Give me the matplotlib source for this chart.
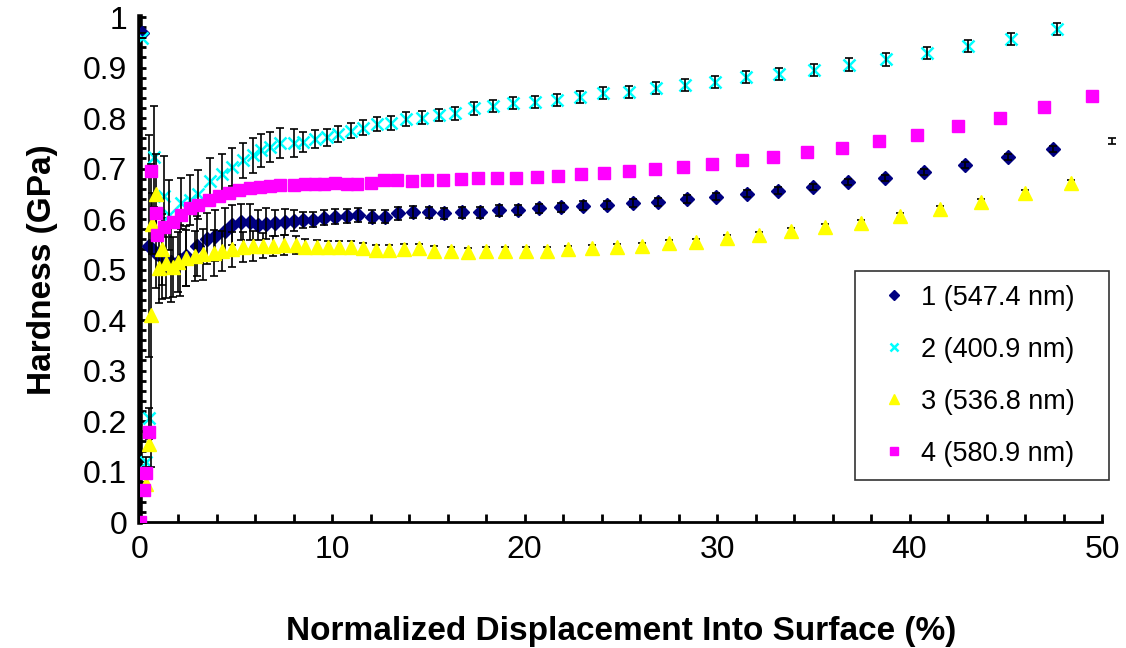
import matplotlib
matplotlib.use("Agg")
import matplotlib.pyplot as plt
from matplotlib.ticker import MultipleLocator

plt.rcParams['font.family'] = ['Liberation Sans', 'DejaVu Sans']

# series 1 (547.4 nm), navy diamonds; the last point lies past the axis end,
# only its error bar shows
s1_x = [0.12, 0.48, 0.83, 1.18, 1.63, 2.08, 2.43, 2.97, 3.49, 3.94,
        4.46, 4.82, 5.26, 5.71, 6.15, 6.59, 7.04, 7.57, 8.01, 8.50,
        9.02, 9.58, 10.15, 10.76, 11.36, 12.05, 12.75, 13.44, 14.22, 15.05,
        15.83, 16.73, 17.68, 18.67, 19.67, 20.75, 21.87, 23.04, 24.30, 25.64,
        26.94, 28.42, 29.94, 31.53, 33.18, 34.96, 36.80, 38.72, 40.75, 42.88,
        45.12, 47.46, 50.52]
s1_y = [0.969, 0.547, 0.533, 0.522, 0.515, 0.518, 0.527, 0.547, 0.561, 0.567,
        0.577, 0.588, 0.594, 0.594, 0.588, 0.591, 0.592, 0.594, 0.597, 0.598,
        0.599, 0.603, 0.605, 0.606, 0.608, 0.605, 0.605, 0.611, 0.614, 0.613,
        0.611, 0.613, 0.613, 0.617, 0.618, 0.621, 0.623, 0.626, 0.628, 0.631,
        0.633, 0.640, 0.644, 0.650, 0.656, 0.663, 0.673, 0.681, 0.693, 0.707,
        0.722, 0.738, 0.754]
s1_err = [0.0, 0.22, 0.07, 0.08, 0.08, 0.07, 0.06, 0.06, 0.05, 0.05,
          0.045, 0.04, 0.035, 0.035, 0.03, 0.03, 0.025, 0.025, 0.02, 0.015,
          0.015, 0.015, 0.015, 0.014, 0.013, 0.012, 0.012, 0.012, 0.012, 0.011,
          0.01, 0.01, 0.01, 0.01, 0.01, 0.009, 0.009, 0.009, 0.008, 0.008,
          0.008, 0.008, 0.007, 0.007, 0.007, 0.006, 0.006, 0.006, 0.006, 0.006,
          0.006, 0.006, 0.006]

# series 2 (400.9 nm), cyan crosses
s2_x = [0.12, 0.32, 0.48, 0.74, 1.27, 1.54, 2.16, 2.60, 3.05, 3.66,
        4.29, 4.82, 5.35, 5.89, 6.33, 6.77, 7.31, 8.01, 8.50, 9.11,
        9.72, 10.32, 10.96, 11.62, 12.32, 13.04, 13.83, 14.67, 15.53, 16.40,
        17.38, 18.35, 19.41, 20.52, 21.67, 22.87, 24.08, 25.44, 26.83, 28.33,
        29.87, 31.49, 33.21, 35.03, 36.86, 38.78, 40.90, 43.03, 45.26, 47.68]
s2_y = [0.958, 0.118, 0.206, 0.723, 0.645, 0.608, 0.631, 0.638, 0.649, 0.675,
        0.689, 0.703, 0.716, 0.726, 0.736, 0.743, 0.750, 0.750, 0.753, 0.758,
        0.762, 0.768, 0.775, 0.781, 0.788, 0.791, 0.798, 0.801, 0.806, 0.809,
        0.819, 0.824, 0.829, 0.831, 0.836, 0.842, 0.849, 0.852, 0.859, 0.865,
        0.872, 0.881, 0.887, 0.896, 0.906, 0.916, 0.929, 0.943, 0.956, 0.976]
s2_err = [0.0, 0.01, 0.02, 0.10, 0.08, 0.07, 0.05, 0.05, 0.048, 0.045,
          0.04, 0.038, 0.035, 0.035, 0.032, 0.03, 0.03, 0.028, 0.02, 0.018,
          0.017, 0.016, 0.015, 0.015, 0.014, 0.014, 0.013, 0.013, 0.012, 0.012,
          0.012, 0.012, 0.012, 0.012, 0.012, 0.012, 0.012, 0.012, 0.012, 0.012,
          0.012, 0.012, 0.012, 0.012, 0.012, 0.012, 0.012, 0.012, 0.012, 0.012]

# series 3 (536.8 nm), yellow triangles
s3_x = [0.32, 0.48, 0.57, 0.63, 0.83, 1.01, 1.18, 1.36, 1.72, 1.98,
        2.43, 2.86, 3.31, 3.85, 4.29, 4.82, 5.35, 5.89, 6.42, 6.94,
        7.48, 8.10, 8.59, 9.20, 9.77, 10.36, 10.96, 11.59, 12.27, 12.96,
        13.73, 14.51, 15.29, 16.18, 17.07, 18.02, 18.98, 20.06, 21.14, 22.27,
        23.51, 24.81, 26.11, 27.51, 28.93, 30.53, 32.17, 33.82, 35.60, 37.47,
        39.50, 41.56, 43.71, 45.99, 48.37]
s3_y = [0.075, 0.155, 0.409, 0.591, 0.649, 0.503, 0.540, 0.513, 0.505, 0.515,
        0.523, 0.527, 0.530, 0.533, 0.537, 0.540, 0.544, 0.547, 0.547, 0.547,
        0.548, 0.548, 0.545, 0.545, 0.544, 0.545, 0.545, 0.542, 0.539, 0.539,
        0.540, 0.542, 0.537, 0.537, 0.535, 0.537, 0.537, 0.537, 0.537, 0.540,
        0.542, 0.545, 0.547, 0.552, 0.555, 0.562, 0.568, 0.576, 0.585, 0.593,
        0.606, 0.619, 0.634, 0.651, 0.671]
s3_err = [0.0, 0.01, 0.30, 0.06, 0.08, 0.07, 0.07, 0.07, 0.06, 0.06,
          0.055, 0.05, 0.05, 0.045, 0.04, 0.035, 0.03, 0.03, 0.025, 0.02,
          0.02, 0.018, 0.015, 0.014, 0.013, 0.012, 0.012, 0.01, 0.01, 0.01,
          0.01, 0.009, 0.009, 0.008, 0.008, 0.008, 0.007, 0.007, 0.007, 0.007,
          0.006, 0.006, 0.006, 0.006, 0.006, 0.006, 0.006, 0.006, 0.006, 0.006,
          0.006, 0.006, 0.006, 0.006, 0.006]

# series 4 (580.9 nm), magenta squares
s4_x = [0.0, 0.24, 0.32, 0.48, 0.60, 0.83, 0.92, 1.27, 1.72, 2.16,
        2.60, 3.05, 3.58, 4.11, 4.64, 5.17, 5.71, 6.23, 6.77, 7.31,
        8.01, 8.59, 9.11, 9.58, 10.15, 10.76, 11.31, 12.00, 12.70, 13.36,
        14.15, 14.95, 15.75, 16.68, 17.60, 18.55, 19.55, 20.62, 21.75, 22.91,
        24.12, 25.42, 26.78, 28.24, 29.72, 31.31, 32.90, 34.65, 36.47, 38.39,
        40.40, 42.51, 44.71, 46.99, 49.46]
s4_y = [0.0, 0.064, 0.098, 0.179, 0.696, 0.611, 0.568, 0.585, 0.594, 0.608,
        0.621, 0.628, 0.638, 0.645, 0.652, 0.657, 0.661, 0.663, 0.665, 0.667,
        0.668, 0.669, 0.669, 0.669, 0.672, 0.669, 0.669, 0.672, 0.677, 0.677,
        0.676, 0.677, 0.677, 0.679, 0.681, 0.681, 0.681, 0.684, 0.686, 0.689,
        0.692, 0.696, 0.700, 0.704, 0.709, 0.716, 0.723, 0.732, 0.741, 0.754,
        0.766, 0.784, 0.801, 0.822, 0.844]
s4_err = 0.006

labels = ['1 (547.4 nm)', '2 (400.9 nm)', '3 (536.8 nm)', '4 (580.9 nm)']
x_ticks = [0, 10, 20, 30, 40, 50]
y_ticks = [0, 0.1, 0.2, 0.3, 0.4, 0.5, 0.6, 0.7, 0.8, 0.9, 1]
y_tick_labels = ['0', '0.1', '0.2', '0.3', '0.4', '0.5', '0.6', '0.7', '0.8', '0.9', '1']

fig = plt.figure(figsize=(11.26, 6.48), dpi=100)
ax = fig.add_axes([0.124, 0.1944, 0.8547, 0.7793])

eb = dict(fmt='none', ecolor='black', elinewidth=1.2, capsize=3, capthick=1.2)

h1, = ax.plot(s1_x, s1_y, 'D', color='#000080', ms=7, mec='#000080', ls='none', zorder=3)
ax.errorbar(s1_x, s1_y, yerr=s1_err, zorder=3.1, clip_on=False, **eb)

h2, = ax.plot(s2_x, s2_y, 'x', color='#00FFFF', ms=8, mew=1.8, ls='none', zorder=3.2)
ax.errorbar(s2_x, s2_y, yerr=s2_err, zorder=3.3, **eb)

ax.errorbar(s3_x, s3_y, yerr=s3_err, zorder=3.4, **eb)
h3, = ax.plot(s3_x, s3_y, '^', color='#FFFF00', ms=10, mec='#FFFF00', ls='none', zorder=3.5)

ax.errorbar(s4_x, s4_y, yerr=s4_err, zorder=3.6, **eb)
h4, = ax.plot(s4_x, s4_y, 's', color='#FF00FF', ms=8.5, mec='#FF00FF', ls='none', zorder=3.7)

ax.set_xlim(0, 50)
ax.set_ylim(0, 1)
ax.spines['top'].set_visible(False)
ax.spines['right'].set_visible(False)
ax.spines['bottom'].set_linewidth(2)
ax.spines['left'].set_linewidth(4)

ax.set_xticks(x_ticks, [str(v) for v in x_ticks])
ax.set_yticks(y_ticks, y_tick_labels)
ax.xaxis.set_minor_locator(MultipleLocator(2))
ax.yaxis.set_minor_locator(MultipleLocator(0.02))
ax.tick_params(axis='x', which='both', direction='in', width=2, length=6, pad=9, labelsize=23)
ax.tick_params(axis='y', which='both', direction='in', width=2, length=4.5, pad=9, labelsize=23)

ax.set_xlabel('Normalized Displacement Into Surface (%)', fontsize=24, fontweight='bold')
ax.set_ylabel('Hardness (GPa)', fontsize=24, fontweight='bold')
ax.xaxis.set_label_coords(0.5, -0.187)
ax.yaxis.set_label_coords(-0.085, 0.5)

leg = ax.legend([h1, h2, h3, h4], labels, loc='upper left',
                bbox_to_anchor=(0.7434, 0.497, 0.2642, 0.0), mode='expand',
                fontsize=19.5, markerscale=0.75, handlelength=1.9, handletextpad=0.05,
                labelspacing=0.96, borderpad=0.5, borderaxespad=0,
                fancybox=False, framealpha=1, edgecolor='#333333')
leg.get_frame().set_linewidth(1.2)

fig.savefig('out.png', dpi=100)
